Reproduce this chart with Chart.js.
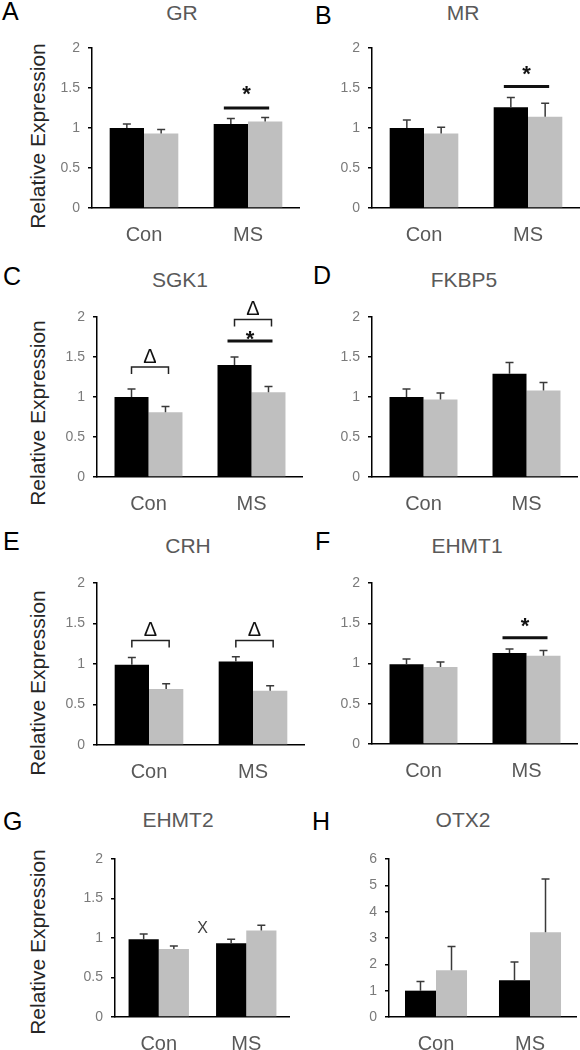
<!DOCTYPE html>
<html>
<head>
<meta charset="utf-8">
<title>Relative expression panels</title>
<script src="https://cdn.jsdelivr.net/npm/chart.js@4.4.1/dist/chart.umd.min.js"></script>
<style>
  body { margin: 0; background: #fff; width: 580px; height: 1050px; position: relative; overflow: hidden;
         font-family: "Liberation Sans", Arial, sans-serif; }
  canvas, .txt { position: absolute; }
  .letter { font-size: 25px; line-height: 25px; color: #000; }
  .title { font-size: 21px; line-height: 21px; color: #595959; transform: translateX(-50%); white-space: nowrap; }
  .ytitle { font-size: 21px; line-height: 21px; color: #262626; white-space: nowrap;
            transform: translate(-50%, -50%) rotate(-90deg); }
</style>
</head>
<body>
<script>
// ─── Data ───
const categories = ['Con', 'MS'];
const genes = ['GR', 'MR', 'SGK1', 'FKBP5', 'CRH', 'EHMT1', 'EHMT2', 'OTX2'];
const letters = ['A', 'B', 'C', 'D', 'E', 'F', 'G', 'H'];

// black bars / grey bars, [Con, MS] for each gene
const blackMeans = [
  [1.0, 1.05], [1.0, 1.26], [1.0, 1.40], [1.0, 1.29],
  [0.99, 1.03], [0.99, 1.13], [0.985, 0.935], [1.0, 1.40],
];
const greyMeans = [
  [0.93, 1.08], [0.93, 1.14], [0.81, 1.06], [0.97, 1.08],
  [0.69, 0.67], [0.955, 1.095], [0.86, 1.095], [1.78, 3.22],
];
const blackSem = [
  [0.05, 0.07], [0.10, 0.12], [0.10, 0.10], [0.10, 0.14],
  [0.09, 0.06], [0.065, 0.05], [0.065, 0.05], [0.35, 0.69],
];
const greySem = [
  [0.05, 0.05], [0.08, 0.17], [0.07, 0.07], [0.08, 0.10],
  [0.065, 0.06], [0.065, 0.065], [0.04, 0.065], [0.90, 2.02],
];
const ticksLow = [0, 0.5, 1, 1.5, 2];
const ticksHigh = [0, 1, 2, 3, 4, 5, 6];

// significance marks: [panel, category, line level, symbol level]
const starLines = [[0, 1, 1.25, 1.5], [1, 1, 1.52, 1.75], [2, 1, 1.70, 1.80], [5, 1, 1.32, 1.54]];
const deltaBrackets = [[2, 0, 1.375, 1.52], [2, 1, 1.97, 2.12], [4, 0, 1.29, 1.44], [4, 1, 1.29, 1.44]];
const interactionMarks = [[6, 1.13]];

// ─── Layout (page px) ───
const FONT = '"Liberation Sans", Arial, sans-serif';
Chart.defaults.font.family = FONT;
const YW = 45, XH = 45, PT = 25;
// chart area: left, right, top, bottom
const areas = [
  [92, 300, 48, 208], [372, 580, 48, 208],
  [97, 303, 317, 477], [372, 578, 317, 477],
  [97, 305, 583, 745], [372, 578, 583, 744],
  [115, 290, 859, 1017], [389, 577, 859, 1017],
];
const letterPos = [[2, -1], [315, 3], [3, 264], [313, 263], [3, 529], [315, 529], [3, 809], [312, 809]];
const titlePos = [[182, 2], [463, 2], [180, 269], [464, 269], [188, 535], [467, 535], [178, 809], [463, 809]];
const yTitlePos = [[37, 136], null, [37, 413], null, [37, 683], null, [37, 942], null];

function addText(cls, text, x, y) {
  const d = document.createElement('div');
  d.className = 'txt ' + cls;
  d.textContent = text;
  d.style.left = x + 'px';
  d.style.top = y + 'px';
  document.body.appendChild(d);
}

// error bars + significance marks, all placed through the chart scales
const marksPlugin = {
  id: 'marks',
  afterDatasetsDraw(chart, args, opts) {
    const i = opts.panel;
    const { ctx } = chart;
    const yScale = chart.scales.y;
    const xScale = chart.scales.x;
    const bars = [chart.getDatasetMeta(0).data, chart.getDatasetMeta(1).data];
    const means = [blackMeans[i], greyMeans[i]];
    const sems = [blackSem[i], greySem[i]];
    ctx.save();

    ctx.strokeStyle = '#3a3a3a';
    ctx.lineWidth = 1.5;
    bars.forEach((els, d) => els.forEach((el, c) => {
      const top = yScale.getPixelForValue(means[d][c] + sems[d][c]);
      ctx.beginPath();
      ctx.moveTo(el.x, el.y);
      ctx.lineTo(el.x, top);
      ctx.moveTo(el.x - 4, top);
      ctx.lineTo(el.x + 4, top);
      ctx.stroke();
    }));

    ctx.textAlign = 'center';
    ctx.textBaseline = 'alphabetic';
    ctx.fillStyle = '#111';

    starLines.filter(s => s[0] === i).forEach(([, c, lv, sv]) => {
      const x1 = bars[0][c].x - 7, x2 = bars[1][c].x + 4;
      const py = yScale.getPixelForValue(lv);
      ctx.strokeStyle = '#111';
      ctx.lineWidth = 3;
      ctx.beginPath();
      ctx.moveTo(x1, py);
      ctx.lineTo(x2, py);
      ctx.stroke();
      ctx.font = 'bold 22px ' + FONT;
      ctx.fillText('*', (x1 + x2) / 2, yScale.getPixelForValue(sv) + 0.58 * 22);
    });

    deltaBrackets.filter(b => b[0] === i).forEach(([, c, lv, sv]) => {
      const x1 = bars[0][c].x, x2 = bars[1][c].x + 3;
      const py = yScale.getPixelForValue(lv);
      ctx.strokeStyle = '#222';
      ctx.lineWidth = 1.5;
      ctx.beginPath();
      ctx.moveTo(x1, py + 7);
      ctx.lineTo(x1, py);
      ctx.lineTo(x2, py);
      ctx.lineTo(x2, py + 7);
      ctx.stroke();
      ctx.font = '20px ' + FONT;
      ctx.fillText('Δ', (x1 + x2) / 2, yScale.getPixelForValue(sv) + 0.36 * 20);
    });

    interactionMarks.filter(m => m[0] === i).forEach(([, lv]) => {
      const cx = (xScale.getPixelForValue(0) + xScale.getPixelForValue(1)) / 2;
      ctx.fillStyle = '#404040';
      ctx.font = '16px ' + FONT;
      ctx.fillText('X', cx, yScale.getPixelForValue(lv) + 0.36 * 16);
    });

    ctx.restore();
  },
};

areas.forEach(([L, R, T, B], i) => {
  addText('letter', letters[i], letterPos[i][0], letterPos[i][1]);
  addText('title', genes[i], titlePos[i][0], titlePos[i][1]);
  if (yTitlePos[i]) addText('ytitle', 'Relative Expression', yTitlePos[i][0], yTitlePos[i][1]);

  const canvas = document.createElement('canvas');
  const left = L - YW, top = T - PT;
  canvas.width = R - left;
  canvas.height = B + XH - top;
  canvas.style.left = left + 'px';
  canvas.style.top = top + 'px';
  document.body.appendChild(canvas);

  const tickVals = i === 7 ? ticksHigh : ticksLow;
  new Chart(canvas, {
    type: 'bar',
    data: {
      labels: categories,
      datasets: [
        { label: 'black', data: blackMeans[i], backgroundColor: '#000' },
        { label: 'grey', data: greyMeans[i], backgroundColor: '#bfbfbf' },
      ],
    },
    options: {
      responsive: false,
      animation: false,
      devicePixelRatio: 1,
      layout: { padding: { top: PT, left: 0, right: 0, bottom: 0 } },
      datasets: { bar: { barPercentage: 1, categoryPercentage: i === 6 ? 0.69 : 0.66 } },
      plugins: {
        legend: { display: false },
        tooltip: { enabled: false },
        marks: { panel: i },
      },
      scales: {
        x: {
          grid: { display: false },
          border: { color: '#000', width: 1.5 },
          ticks: { color: '#595959', font: { size: 20 }, padding: 7 },
          afterFit: (s) => { s.height = XH; },
        },
        y: {
          min: tickVals[0],
          max: tickVals[tickVals.length - 1],
          afterBuildTicks: (s) => { s.ticks = tickVals.map(v => ({ value: v })); },
          grid: { drawOnChartArea: false, tickLength: 4, color: '#000', lineWidth: 1.5 },
          border: { color: '#000', width: 1.5 },
          ticks: { color: '#7a7a7a', font: { size: 14 }, padding: 8, callback: (v) => String(v) },
          afterFit: (s) => { s.width = YW; },
        },
      },
    },
    plugins: [marksPlugin],
  });
});
</script>
</body>
</html>
